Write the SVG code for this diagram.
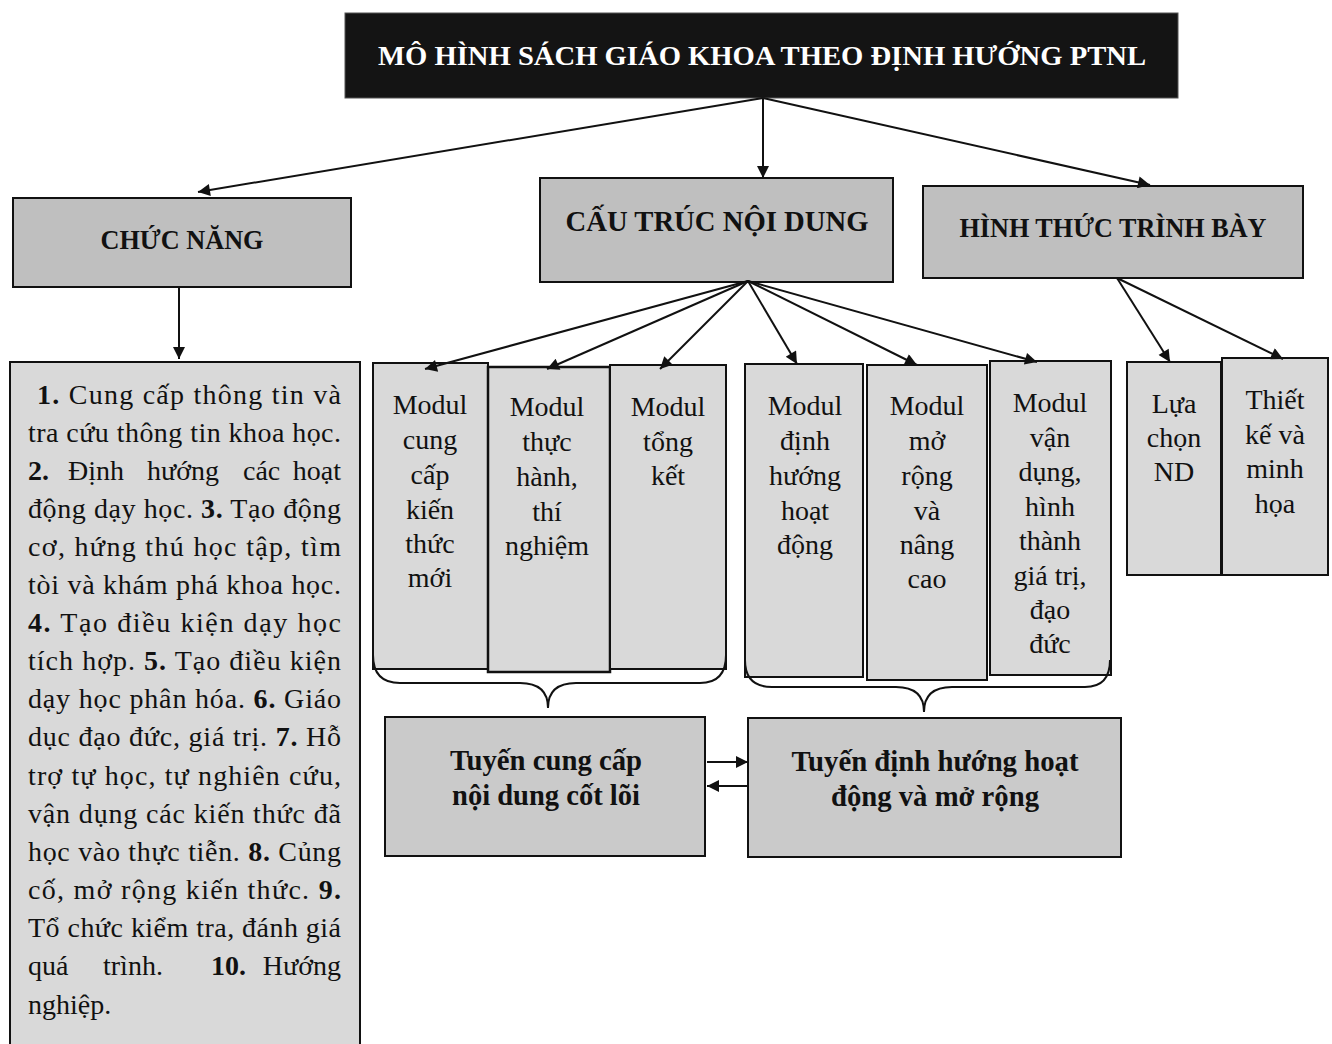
<svg xmlns="http://www.w3.org/2000/svg" width="1332" height="1044" viewBox="0 0 1332 1044">
<style>
.hdr{fill:#bfbfbf;stroke:#111;stroke-width:2}
.mod{fill:#d9d9d9;stroke:#111;stroke-width:2}
.bot{fill:#cacaca;stroke:#111;stroke-width:2}
.t{font-family:"Liberation Serif","Times New Roman",serif;fill:#111}
.hb{font-weight:bold;font-size:25px;text-anchor:middle}
.m{font-size:28px;text-anchor:middle}
.l{font-size:28px}
.b{font-weight:bold}
.cn{stroke:#111;stroke-width:2;fill:none}
</style>
<defs>
<marker id="ah" viewBox="0 0 10 10" refX="10" refY="5" markerWidth="15" markerHeight="12" markerUnits="userSpaceOnUse" orient="auto">
<path d="M0,0 L10,5 L0,10 z" fill="#111"/>
</marker>
</defs>
<rect width="1332" height="1044" fill="#fff"/>

<g id="title">
<rect x="345" y="13" width="833" height="85" fill="#141414" stroke="#555" stroke-width="1"/>
<text class="t" x="762" y="65" font-size="28" font-weight="bold" text-anchor="middle" style="fill:#fff" textLength="768" lengthAdjust="spacingAndGlyphs">MÔ HÌNH SÁCH GIÁO KHOA THEO ĐỊNH HƯỚNG PTNL</text>
</g>

<g id="chuc-nang">
<rect class="hdr" x="13" y="198" width="338" height="89"/>
<text class="t hb" x="182" y="249" style="font-size:27px" textLength="163" lengthAdjust="spacingAndGlyphs">CHỨC NĂNG</text>
</g>

<g id="cau-truc">
<rect class="hdr" x="540" y="178" width="353" height="104"/>
<text class="t hb" x="717" y="231" style="font-size:29px" textLength="303" lengthAdjust="spacingAndGlyphs">CẤU TRÚC NỘI DUNG</text>
</g>

<g id="hinh-thuc">
<rect class="hdr" x="923" y="186" width="380" height="92"/>
<text class="t hb" x="1113" y="237" style="font-size:27px" textLength="307" lengthAdjust="spacingAndGlyphs">HÌNH THỨC TRÌNH BÀY</text>
</g>

<g id="chuc-nang-list">
<rect class="mod" x="10" y="362" width="350" height="690"/>
<text class="t l" x="37" y="404" textLength="304" lengthAdjust="spacing"><tspan class="b">1.</tspan> Cung cấp thông tin và</text>
<text class="t l" x="28" y="442" textLength="313" lengthAdjust="spacing">tra cứu thông tin khoa học.</text>
<text class="t l" y="480"><tspan class="b" x="28">2.</tspan><tspan x="68">Định</tspan><tspan x="147">hướng</tspan><tspan x="243">các</tspan></text>
<text class="t l" x="341" y="480" text-anchor="end">hoạt</text>
<text class="t l" x="28" y="518" textLength="313" lengthAdjust="spacing">động dạy học. <tspan class="b">3.</tspan> Tạo động</text>
<text class="t l" x="28" y="556" textLength="313" lengthAdjust="spacing">cơ, hứng thú học tập, tìm</text>
<text class="t l" x="28" y="594" textLength="313" lengthAdjust="spacing">tòi và khám phá khoa học.</text>
<text class="t l" x="28" y="632" textLength="313" lengthAdjust="spacing"><tspan class="b">4.</tspan> Tạo điều kiện dạy học</text>
<text class="t l" x="28" y="670" textLength="313" lengthAdjust="spacing">tích hợp. <tspan class="b">5.</tspan> Tạo điều kiện</text>
<text class="t l" x="28" y="708" textLength="313" lengthAdjust="spacing">dạy học phân hóa. <tspan class="b">6.</tspan> Giáo</text>
<text class="t l" x="28" y="746" textLength="313" lengthAdjust="spacing">dục đạo đức, giá trị. <tspan class="b">7.</tspan> Hỗ</text>
<text class="t l" x="28" y="785" textLength="313" lengthAdjust="spacing">trợ tự học, tự nghiên cứu,</text>
<text class="t l" x="28" y="823" textLength="313" lengthAdjust="spacing">vận dụng các kiến thức đã</text>
<text class="t l" x="28" y="861" textLength="313" lengthAdjust="spacing">học vào thực tiễn. <tspan class="b">8.</tspan> Củng</text>
<text class="t l" x="28" y="899" textLength="313" lengthAdjust="spacing">cố, mở rộng kiến thức. <tspan class="b">9.</tspan></text>
<text class="t l" x="28" y="937" textLength="313" lengthAdjust="spacing">Tổ chức kiểm tra, đánh giá</text>
<text class="t l" y="975"><tspan x="28">quá</tspan><tspan x="103">trình.</tspan><tspan class="b" x="211">10.</tspan></text>
<text class="t l" x="341" y="975" text-anchor="end">Hướng</text>
<text class="t l" x="28" y="1014">nghiệp.</text>
</g>

<g id="modul-cung-cap">
<rect class="mod" x="373" y="363" width="115" height="306"/>
<text class="t m"><tspan x="430" y="414">Modul</tspan><tspan x="430" y="449">cung</tspan><tspan x="430" y="484">cấp</tspan><tspan x="430" y="519">kiến</tspan><tspan x="430" y="553">thức</tspan><tspan x="430" y="587">mới</tspan></text>
</g>
<g id="modul-thuc-hanh">
<rect class="mod" x="488" y="367" width="122" height="305" style="stroke-width:2.5"/>
<text class="t m"><tspan x="547" y="416">Modul</tspan><tspan x="547" y="451">thực</tspan><tspan x="547" y="486">hành,</tspan><tspan x="547" y="521">thí</tspan><tspan x="547" y="555">nghiệm</tspan></text>
</g>
<g id="modul-tong-ket">
<rect class="mod" x="610" y="365" width="116" height="304"/>
<text class="t m"><tspan x="668" y="416">Modul</tspan><tspan x="668" y="451">tổng</tspan><tspan x="668" y="485">kết</tspan></text>
</g>

<g id="modul-dinh-huong">
<rect class="mod" x="745" y="364" width="118" height="313"/>
<text class="t m"><tspan x="805" y="415">Modul</tspan><tspan x="805" y="450">định</tspan><tspan x="805" y="485">hướng</tspan><tspan x="805" y="520">hoạt</tspan><tspan x="805" y="554">động</tspan></text>
</g>
<g id="modul-mo-rong">
<rect class="mod" x="867" y="365" width="120" height="315"/>
<text class="t m"><tspan x="927" y="415">Modul</tspan><tspan x="927" y="450">mở</tspan><tspan x="927" y="485">rộng</tspan><tspan x="927" y="520">và</tspan><tspan x="927" y="554">nâng</tspan><tspan x="927" y="588">cao</tspan></text>
</g>
<g id="modul-van-dung">
<rect class="mod" x="990" y="361" width="121" height="314"/>
<text class="t m"><tspan x="1050" y="412">Modul</tspan><tspan x="1050" y="447">vận</tspan><tspan x="1050" y="481">dụng,</tspan><tspan x="1050" y="516">hình</tspan><tspan x="1050" y="550">thành</tspan><tspan x="1050" y="585">giá trị,</tspan><tspan x="1050" y="619">đạo</tspan><tspan x="1050" y="653">đức</tspan></text>
</g>

<g id="lua-chon">
<rect class="mod" x="1127" y="362" width="94" height="213"/>
<text class="t m"><tspan x="1174" y="413">Lựa</tspan><tspan x="1174" y="447">chọn</tspan><tspan x="1174" y="481">ND</tspan></text>
</g>
<g id="thiet-ke">
<rect class="mod" x="1222" y="358" width="106" height="217"/>
<text class="t m"><tspan x="1275" y="409">Thiết</tspan><tspan x="1275" y="444">kế và</tspan><tspan x="1275" y="478">minh</tspan><tspan x="1275" y="513">họa</tspan></text>
</g>

<g id="tuyen-cung-cap">
<rect class="bot" x="385" y="717" width="320" height="139"/>
<text class="t hb" x="546" y="770" style="font-size:29px" textLength="192" lengthAdjust="spacingAndGlyphs">Tuyến cung cấp</text>
<text class="t hb" x="546" y="805" style="font-size:29px" textLength="188" lengthAdjust="spacingAndGlyphs">nội dung cốt lõi</text>
</g>
<g id="tuyen-dinh-huong">
<rect class="bot" x="748" y="718" width="373" height="139"/>
<text class="t hb" x="935" y="771" style="font-size:29px" textLength="287" lengthAdjust="spacingAndGlyphs">Tuyến định hướng hoạt</text>
<text class="t hb" x="935" y="806" style="font-size:29px" textLength="208" lengthAdjust="spacingAndGlyphs">động và mở rộng</text>
</g>

<g id="connectors">
<path class="cn" d="M763 98 L198 192" marker-end="url(#ah)"/>
<path class="cn" d="M763 98 L763 178" marker-end="url(#ah)"/>
<path class="cn" d="M763 98 L1150 185" marker-end="url(#ah)"/>
<path class="cn" d="M179 287 L179 359" marker-end="url(#ah)"/>
<path class="cn" d="M748 281 L425 369" marker-end="url(#ah)"/>
<path class="cn" d="M748 281 L547 369" marker-end="url(#ah)"/>
<path class="cn" d="M748 281 L660 369" marker-end="url(#ah)"/>
<path class="cn" d="M748 281 L797 364" marker-end="url(#ah)"/>
<path class="cn" d="M748 281 L917 365" marker-end="url(#ah)"/>
<path class="cn" d="M748 281 L1037 362" marker-end="url(#ah)"/>
<path class="cn" d="M1117 278 L1170 362" marker-end="url(#ah)"/>
<path class="cn" d="M1117 278 L1283 359" marker-end="url(#ah)"/>
<path class="cn" d="M707 762 L748 762" marker-end="url(#ah)"/>
<path class="cn" d="M748 786 L707 786" marker-end="url(#ah)"/>
<path class="cn" d="M373 655 Q373 683 400 683 L520 683 Q548 683 548 708 Q548 683 576 683 L700 683 Q726 683 726 655"/>
<path class="cn" d="M745 660 Q745 687 772 687 L896 687 Q924 687 924 712 Q924 687 952 687 L1085 687 Q1110 687 1110 660"/>
</g>
</svg>
